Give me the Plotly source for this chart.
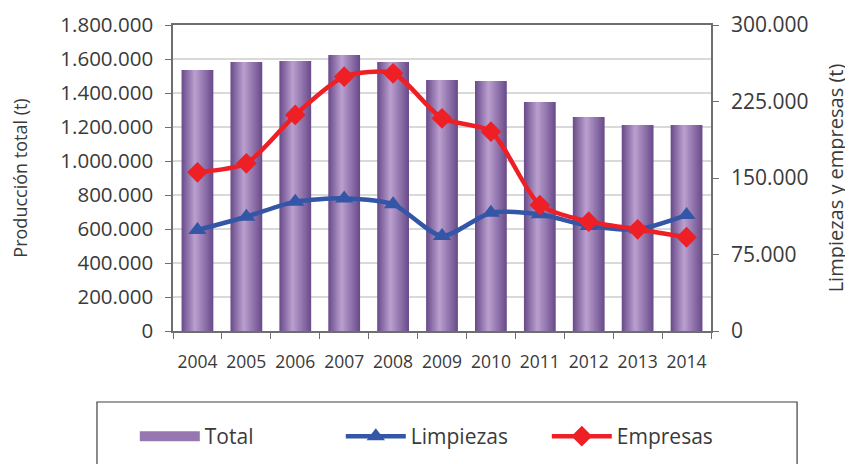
import plotly.graph_objects as go

years = ["2004", "2005", "2006", "2007", "2008", "2009", "2010", "2011", "2012", "2013", "2014"]
total = [1535000, 1582000, 1588000, 1623000, 1582000, 1476000, 1470000, 1347000, 1259000, 1212000, 1212000]
limpiezas = [99000, 112000, 126800, 130000, 124200, 93100, 116000, 114400, 103000, 99700, 113700]
empresas = [155600, 164400, 211800, 249300, 252600, 208500, 195400, 123500, 107200, 99700, 91900]

left_ticks = [0, 200000, 400000, 600000, 800000, 1000000, 1200000, 1400000, 1600000, 1800000]
right_ticks = [0, 75000, 150000, 225000, 300000]

FONT = "Open Sans, DejaVu Sans, sans-serif"
TXT = "#3a3a3a"
AX = "#6e6e6e"

fig = go.Figure()

# bars with a horizontal gradient made of nested overlaid bars
W = 0.65
L = -W / 2
peak = 0.42
n = 14
dark = (0x68, 0x4a, 0x8a)
light = (0xBB, 0xA0, 0xCF)
for k in range(n):
    t = k / n
    left = L + W * peak * t
    right = L + W * (peak + (1 - peak) * (1 - t))
    f = (k + 0.5) / n
    c = tuple(int(round(dark[i] + (light[i] - dark[i]) * f)) for i in range(3))
    fig.add_trace(go.Bar(
        x=years, y=total, name="Total",
        width=right - left, offset=left,
        marker=dict(color="rgb(%d,%d,%d)" % c, line=dict(width=0)),
        showlegend=False, legendgroup="total",
        hoverinfo="skip" if k else None,
    ))

# legend swatch for the bars (wide purple block, like the original)
fig.add_trace(go.Scatter(
    x=[None], y=[None], name="Total", mode="lines", legendgroup="total",
    line=dict(color="#9677b0", width=14), legendrank=1, hoverinfo="skip",
))

fig.add_trace(go.Scatter(
    x=years, y=limpiezas, name="Limpiezas", yaxis="y2", mode="lines+markers",
    line=dict(color="#3356a6", width=4.5, shape="spline", smoothing=0.7),
    marker=dict(symbol="triangle-up", size=16, color="#3356a6"), legendrank=2,
))
fig.add_trace(go.Scatter(
    x=years, y=empresas, name="Empresas", yaxis="y2", mode="lines+markers",
    line=dict(color="#ee2026", width=4.5, shape="spline", smoothing=0.7),
    marker=dict(symbol="diamond", size=16, color="#ee2026"), legendrank=3,
))

fig.update_layout(
    width=845, height=456,
    margin=dict(l=165, r=142, t=17, b=133, autoexpand=False),
    paper_bgcolor="white", plot_bgcolor="white",
    separators=",.",
    barmode="overlay",
    font=dict(family=FONT, color=TXT),
    xaxis=dict(
        type="category", tickson="boundaries", ticks="outside", ticklen=6,
        tickcolor=AX, showline=True, linecolor=AX, linewidth=1.5,
        mirror=True, showgrid=False, tickfont=dict(size=17.5, color=TXT),
        tickangle=0, range=[-0.5, 10.5], automargin=False, ticklabelstandoff=14,
    ),
    yaxis=dict(
        range=[0, 1800000], tickvals=left_ticks, tickformat=",.0f",
        ticks="outside", ticklen=6, tickcolor=AX,
        showline=True, linecolor=AX, linewidth=1.5, mirror=True,
        showgrid=True, gridcolor="#d9d9d9", gridwidth=1.5,
        tickfont=dict(size=20.5, color=TXT), zeroline=False, automargin=False,
        ticklabelstandoff=8,
        title=dict(text="Producción total (t)", font=dict(size=18, color=TXT), standoff=30),
    ),
    yaxis2=dict(
        overlaying="y", side="right", range=[0, 300000], tickvals=right_ticks,
        tickformat=",.0f", ticks="outside", ticklen=6, tickcolor=AX,
        showline=True, linecolor=AX, linewidth=1.5, showgrid=False,
        tickfont=dict(size=21, color=TXT), zeroline=False, automargin=False,
        ticklabelstandoff=8,
        title=dict(text="Limpiezas y empresas (t)", font=dict(size=20, color=TXT), standoff=21),
    ),
    legend=dict(
        orientation="h", x=-0.071, y=-0.345, yanchor="middle", xanchor="left",
        entrywidth=131, entrywidthmode="pixels", itemwidth=60,
        font=dict(size=21, color=TXT), bgcolor="rgba(0,0,0,0)",
        traceorder="normal",
    ),
    shapes=[dict(
        type="rect", xref="paper", yref="paper",
        x0=-0.1413, x1=1.16, y0=-0.232, y1=-0.48,
        line=dict(color="#404040", width=1.2), fillcolor="rgba(0,0,0,0)", layer="below",
    )],
)

fig.write_html("out.html")
